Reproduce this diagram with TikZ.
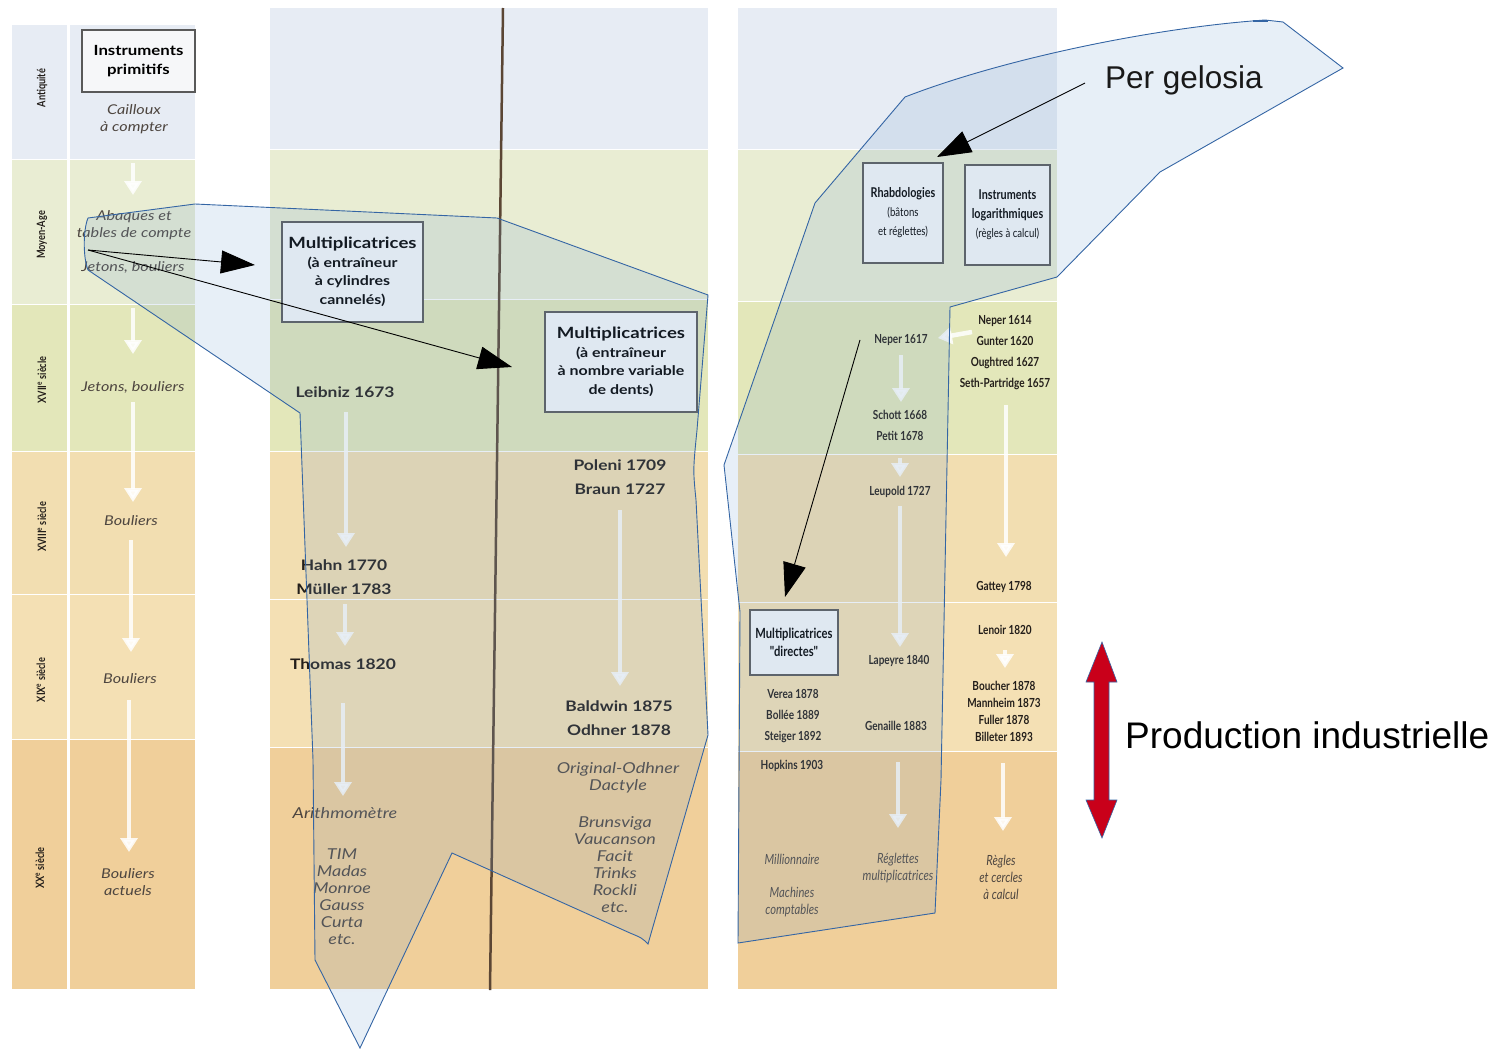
\documentclass[tikz,border=0pt]{standalone}
\usepackage{fontspec}
\setmainfont{Liberation Sans}
\newfontfamily\scanfont[FakeStretch=1.2]{Lato}
\newfontfamily\narrowfont[FakeStretch=0.8]{Lato}
\usetikzlibrary{arrows.meta}

\definecolor{rowA}{HTML}{E7ECF4}
\definecolor{rowB}{HTML}{E9EDD3}
\definecolor{rowC}{HTML}{E3E7BA}
\definecolor{rowD}{HTML}{F2DEB1}
\definecolor{rowE}{HTML}{F4E0B4}
\definecolor{rowF}{HTML}{F0CF9A}
\definecolor{foldc}{HTML}{5B4634}
\definecolor{zonefill}{HTML}{729FCF}
\definecolor{zoneline}{HTML}{3465A4}
\definecolor{indred}{HTML}{C9001A}
\definecolor{inkc}{HTML}{231E1A}
\definecolor{greyink}{HTML}{4E4640}
\definecolor{boxfill}{HTML}{F6F7F9}

\tikzset{
  era/.style={rotate=90, text=inkc, font=\narrowfont\bfseries\fontsize{11.5}{12}\selectfont},
  titlebox/.style={draw=black!65, fill=boxfill, line width=1.3pt, align=center, inner sep=0pt},
  yr/.style={text=inkc, align=center, font=\scanfont\bfseries\fontsize{14.5}{24}\selectfont},
  yrn/.style={text=inkc, align=center, font=\narrowfont\bfseries\fontsize{12.5}{21}\selectfont},
  itl/.style={text=greyink, align=center, font=\scanfont\itshape\fontsize{13.5}{17}\selectfont},
  itlm/.style={text=greyink, align=center, font=\scanfont\itshape\fontsize{15}{17}\selectfont},
  itln/.style={text=greyink, align=center, font=\narrowfont\itshape\fontsize{14}{17}\selectfont},
  wharrow/.style={white, opacity=0.85, line width=4.5pt, -{Triangle[length=14pt,width=17pt]}},
  rowline/.style={white, line width=3pt},
  zone/.style={fill=zonefill, fill opacity=0.17, draw=zoneline, line width=0.9pt},
  pointer/.style={black, line width=0.9pt, -{Triangle[length=34pt,width=23pt]}}
}
\newcommand{\boxtitle}[1]{{\bfseries\fontsize{13.5}{19}\selectfont #1}}

\begin{document}
\begin{tikzpicture}[x=1pt,y=-1pt]
\useasboundingbox (0,0) rectangle (1505,1049);

% background bands of the three scanned panels
\foreach \ya/\yb/\c in {25/160/rowA,160/305/rowB,305/452/rowC,452/595/rowD,595/740/rowE,740/990/rowF}{
  \fill[\c] (12,\ya) rectangle (195,\yb);
  \draw[rowline] (12,\yb) -- (195,\yb);
}
\draw[rowline] (68,25) -- (68,990);
\foreach \ya/\yb/\c in {8/150/rowA,150/300/rowB,300/452/rowC,452/600/rowD,600/748/rowE,748/990/rowF}{
  \fill[\c] (270,\ya) rectangle (708,\yb);
  \draw[rowline] (270,\yb) -- (708,\yb);
}
\draw[foldc, line width=2.5pt] (503,8) -- (490,990);
\foreach \ya/\yb/\c in {8/150/rowA,150/302/rowB,302/455/rowC,455/603/rowD,603/752/rowE,752/990/rowF}{
  \fill[\c] (738,\ya) rectangle (1057,\yb);
  \draw[rowline] (738,\yb) -- (1057,\yb);
}

% white flow arrows of the scan
\foreach \x/\ya/\yb in {133/163/195,133/308/354,133/402/502,131/540/652,129/700/852,
  346/412/547,345/604/646,343/703/796,620/510/686,
  901/355/402,900/458/477,900/506/647,1006/405/557,1005/650/668,898/762/828,1003/763/831}{
  \draw[wharrow] (\x,\ya) -- (\x,\yb);
}
\draw[wharrow] (972,332) -- (938,338);

% left panel
\node[era] (antiq) at (42,88) {Antiquité};
\node[era] (moyen) at (42,235) {Moyen-Age};
\node[era] (xvii) at (42,380) {XVII\textsuperscript{e} siècle};
\node[era] (xviii) at (42,527) {XVIII\textsuperscript{e} siècle};
\node[era] (xix) at (41,680) {XIX\textsuperscript{e} siècle};
\node[era] (xx) at (40,868) {XX\textsuperscript{e} siècle};

\node[titlebox, minimum width=113, minimum height=62,
  font=\scanfont\bfseries\fontsize{14}{19}\selectfont] (prim) at (138.5,61) {Instruments\\primitifs};
\node[itl] (caill) at (134,119) {Cailloux\\à compter};
\node[itl] (abaq) at (134,225) {Abaques et\\tables de compte};
\node[itl] (jet1) at (133,267) {Jetons, bouliers};
\node[itl] (jet2) at (133,387) {Jetons, bouliers};
\node[itl] (boul1) at (131,521) {Bouliers};
\node[itl] (boul2) at (130,679) {Bouliers};
\node[itl] (boul3) at (128,882) {Bouliers\\actuels};

% middle panel
\node[titlebox, minimum width=141, minimum height=100,
  font=\scanfont\bfseries\fontsize{13.3}{18.5}\selectfont] (cyl) at (352.5,272)
  {{\fontsize{15.5}{18.5}\selectfont Multiplicatrices}\\(à entraîneur\\à cylindres\\cannelés)};
\node[titlebox, minimum width=152, minimum height=100,
  font=\scanfont\bfseries\fontsize{13.3}{18.5}\selectfont] (dents) at (621,362)
  {{\fontsize{15.5}{18.5}\selectfont Multiplicatrices}\\(à entraîneur\\à nombre variable\\de dents)};
\node[yr] (leib) at (345,392) {Leibniz 1673};
\node[yr] (hahn) at (344,577) {Hahn 1770\\Müller 1783};
\node[yr] (thom) at (343,664) {Thomas 1820};
\node[yr] (polen) at (620,477) {Poleni 1709\\Braun 1727};
\node[yr] (baldw) at (619,718) {Baldwin 1875\\Odhner 1878};
\node[itlm] (arith) at (345,813) {Arithmomètre};
\node[itlm] (tim) at (342,897) {TIM\\Madas\\Monroe\\Gauss\\Curta\\etc.};
\node[itlm] (origo) at (618,778) {Original-Odhner\\Dactyle};
\node[itlm] (brun) at (615,865) {Brunsviga\\Vaucanson\\Facit\\Trinks\\Rockli\\etc.};

% right panel
\node[titlebox, minimum width=80, minimum height=100,
  font=\narrowfont\fontsize{12}{19}\selectfont] (rhabdo) at (903,213)
  {\boxtitle{Rhabdologies}\\(bâtons\\et réglettes)};
\node[titlebox, minimum width=85, minimum height=100,
  font=\narrowfont\fontsize{12}{19}\selectfont] (loga) at (1007.5,215)
  {\boxtitle{Instruments}\\\boxtitle{logarithmiques}\\(règles à calcul)};
\node[titlebox, minimum width=88, minimum height=65,
  font=\narrowfont\bfseries\fontsize{14}{18}\selectfont] (direct) at (794,642.5)
  {Multiplicatrices\\"directes"};
\node[yrn] (nep17) at (901,340) {Neper 1617};
\node[yrn] (nep14) at (1005,353) {Neper 1614\\Gunter 1620\\Oughtred 1627\\Seth-Partridge 1657};
\node[yrn] (schott) at (900,425) {Schott 1668\\Petit 1678};
\node[yrn] (leup) at (900,492) {Leupold 1727};
\node[yrn] (gattey) at (1004,587) {Gattey 1798};
\node[yrn] (lenoir) at (1005,630) {Lenoir 1820};
\node[yrn] (lapey) at (899,661) {Lapeyre 1840};
\node[yrn] (verea) at (793,716) {Verea 1878\\Bollée 1889\\Steiger 1892};
\node[yrn] (genai) at (896,726) {Genaille 1883};
\node[yrn, font=\narrowfont\bfseries\fontsize{12.5}{17}\selectfont] (bouch) at (1004,711)
  {Boucher 1878\\Mannheim 1873\\Fuller 1878\\Billeter 1893};
\node[yrn] (hopk) at (792,766) {Hopkins 1903};
\node[itln] (milli) at (792,859) {Millionnaire};
\node[itln] (machi) at (792,902) {Machines\\comptables};
\node[itln] (regl) at (898,868) {Réglettes\\multiplicatrices};
\node[itln] (regc) at (1001,877) {Règles\\et cercles\\à calcul};

% highlighted zones
\filldraw[zone] (195,204) -- (497,218) -- (708,295) -- (697,430) .. controls (693,470) .. (696,500)
  -- (708,735) -- (648,944) .. controls (642,938) .. (630,933) -- (452,853) -- (360,1048)
  -- (315,960) -- (313,760) -- (300,413) -- (88,270) .. controls (83,258) and (83,230) .. (88,218) -- cycle;
\filldraw[zone] (1265,20) -- (1283,22) -- (1343,68) -- (1160,172) -- (1057,277) -- (950,307)
  -- (941,780) -- (935,913) -- (738,943) -- (740,612) -- (724,465) -- (815,203) -- (905,97)
  .. controls (1000,60) and (1150,28) .. (1265,20) -- cycle;
\draw[zoneline, line width=2.2pt] (1253,21) -- (1268,21);

% pointers
\coordinate (jetsrc) at (88,250);
\coordinate (cylend) at (255,265);
\coordinate (dentend) at (512,367);
\coordinate (gelsrc) at (1085,83);
\coordinate (rhabend) at (937,157);
\coordinate (rhabsrc) at (860,340);
\coordinate (dirend) at (785,597);
\draw[pointer] (jetsrc) -- (cylend);
\draw[pointer] (jetsrc) -- (dentend);
\draw[pointer] (gelsrc) -- (rhabend);
\draw[pointer] (rhabsrc) -- (dirend);

\node[anchor=west, inner sep=0, text=black!90, font=\fontsize{31.5}{36}\selectfont] (gelosia) at (1105,80) {Per gelosia};

% industrial production
\filldraw[fill=indred, draw=zoneline, line width=0.6pt] (1102,642) -- (1117,682) -- (1109,682) -- (1109,800)
  -- (1117,800) -- (1102,838) -- (1086,800) -- (1094,800) -- (1094,682) -- (1086,682) -- cycle;
\node[anchor=west, inner sep=0, text=black, font=\fontsize{37}{40}\selectfont] (prod) at (1125,735) {Production industrielle};
\end{tikzpicture}
\end{document}
